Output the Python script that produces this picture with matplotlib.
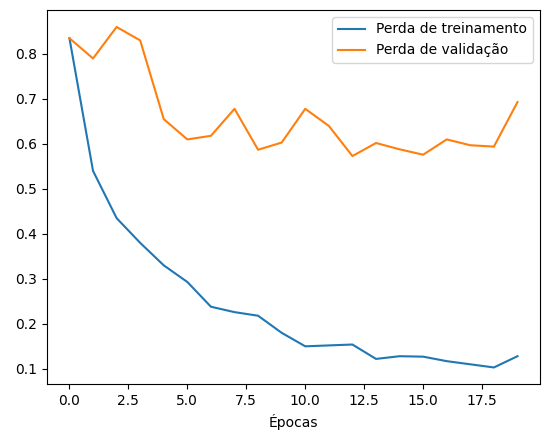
import matplotlib
matplotlib.use("Agg")
import matplotlib.pyplot as plt

epochs = list(range(20))
train_loss = [0.835, 0.54, 0.435, 0.38, 0.33, 0.293, 0.238, 0.226, 0.218, 0.18,
              0.15, 0.152, 0.154, 0.122, 0.128, 0.127, 0.117, 0.11, 0.103, 0.128]
val_loss = [0.835, 0.79, 0.86, 0.83, 0.655, 0.61, 0.618, 0.678, 0.587, 0.603,
            0.678, 0.64, 0.573, 0.602, 0.588, 0.576, 0.61, 0.597, 0.594, 0.693]

fig, ax = plt.subplots(figsize=(5.47, 4.32), dpi=100)
fig.subplots_adjust(left=0.086, right=0.987, top=0.977, bottom=0.11)
ax.plot(epochs, train_loss, label="Perda de treinamento")
ax.plot(epochs, val_loss, label="Perda de validação")
ax.set_xlabel("Épocas")
ax.legend(loc="upper right")
fig.savefig("out.png")
